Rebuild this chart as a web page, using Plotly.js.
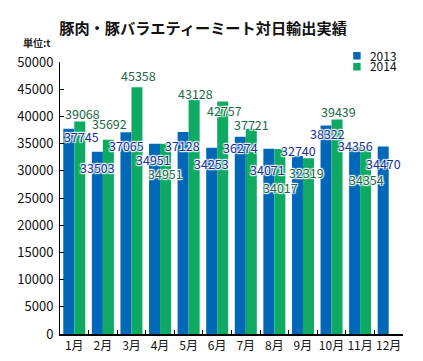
<!DOCTYPE html>
<html>
<head>
<meta charset="utf-8">
<script src="https://cdn.plot.ly/plotly-3.0.1.min.js"></script>
<style>html,body{margin:0;padding:0;background:#fff;}#chart{width:423px;height:361px;}</style>
</head>
<body>
<div id="chart"></div>
<script>
// ---- data ----
var months = ["1月","2月","3月","4月","5月","6月","7月","8月","9月","10月","11月","12月"];
var v2013 = [37745, 33503, 37065, 34951, 37128, 34253, 36274, 34071, 32740, 38322, 34356, 34470];
var v2014 = [39068, 35692, 45358, 34951, 43128, 42757, 37721, 34017, 32319, 39439, 34354, null];
var seriesNames = ["2013", "2014"];

// ---- label placement (pixel offsets from bar-group centre / value) ----
var dx13 = [7.4, -5.4, -4.8, -6.4, -5.7, -5.3, -5.4, -6.5, -4.4, -4.4, -5, -5.2];
var dy13 = [7.8, 15.4, 12.7, 15.2, 13.1, 15.4, 10.4, 21.1, -5.4, 8.2, -1.3, 17.3];
var dx14 = [8.4, 6.8, 6.8, 5.6, 7, 7.7, 6.1, 6.2, 3.9, 7, 6];
var dy14 = [-7.7, -16.7, -11.8, 29.9, -5.6, 9, -4.7, 38.2, 14.3, -7.7, 32.7];

var FONT = "'Noto Sans CJK JP', 'Noto Sans', sans-serif";
var BLUE = "#0068b7", GREEN = "#0eaa64";
var halo = "1px 1px 1px #fff, -1px -1px 1px #fff, 1px -1px 1px #fff, -1px 1px 1px #fff, 0 0 2px #fff";

var traces = [
  {type: "bar", name: seriesNames[0], x: months, y: v2013, marker: {color: BLUE}, hoverinfo: "x+y+name", legend: "legend"},
  {type: "bar", name: seriesNames[1], x: months, y: v2014, marker: {color: GREEN}, hoverinfo: "x+y+name", legend: "legend2"}
];

var ann = [];
v2013.forEach(function (v, i) {
  if (v == null) return;
  ann.push({x: months[i], y: v, xref: "x", yref: "y", text: String(v), showarrow: false,
    xshift: dx13[i], yshift: -dy13[i],
    font: {family: FONT, size: 12.5, color: "#1b2f96", shadow: halo}});
});
v2014.forEach(function (v, i) {
  if (v == null) return;
  ann.push({x: months[i], y: v, xref: "x", yref: "y", text: String(v), showarrow: false,
    xshift: dx14[i], yshift: -dy14[i],
    font: {family: FONT, size: 12.5, color: "#1d6a45", shadow: halo}});
});
ann.push({xref: "paper", yref: "paper", x: -0.02, y: 1.035, xanchor: "right", yanchor: "bottom",
  text: "<b>単位:t</b>", showarrow: false, font: {family: FONT, size: 10, color: "#222"}});

var legendBase = {xanchor: "left", yanchor: "top", bgcolor: "rgba(0,0,0,0)",
  font: {family: FONT, size: 12, color: "#111"}, tracegroupgap: 0};

var layout = {
  width: 423, height: 361,
  margin: {l: 60, r: 20, t: 62, b: 27, pad: 0},
  paper_bgcolor: "#fff", plot_bgcolor: "#fff",
  font: {family: FONT, color: "#111"},
  title: {text: "<b>豚肉・豚バラエティーミート対日輸出実績</b>", x: 0.48, xanchor: "center", y: 0.921, yanchor: "middle",
    font: {family: FONT, size: 15.2, color: "#111"}},
  barmode: "group", bargap: 0.23, bargroupgap: 0,
  xaxis: {type: "category", showline: true, linecolor: "#000", linewidth: 1.5,
    ticks: "inside", ticklen: 4, tickcolor: "#000", tickson: "boundaries", tickangle: 0,
    showgrid: false, zeroline: false, tickfont: {family: FONT, size: 12, color: "#111"}},
  yaxis: {range: [0, 50000], dtick: 5000, tickformat: "d", showline: true, linecolor: "#000", linewidth: 1,
    ticks: "inside", ticklen: 4, tickcolor: "#000", showgrid: false, zeroline: false,
    tickfont: {family: FONT, size: 13, color: "#111"}, ticklabelstandoff: 3},
  legend: Object.assign({x: 0.787, y: 1.076}, legendBase),
  legend2: Object.assign({x: 0.787, y: 1.036}, legendBase),
  showlegend: true,
  annotations: ann
};

Plotly.newPlot("chart", traces, layout, {displayModeBar: false, staticPlot: true}).then(function (gd) {
  // shrink legend swatches to the small squares of the reference
  gd.querySelectorAll(".legendpoints path").forEach(function (p) {
    var t = p.getAttribute("transform") || "";
    p.setAttribute("transform", t + " translate(7,0) scale(0.62)");
  });
});
</script>
</body>
</html>
